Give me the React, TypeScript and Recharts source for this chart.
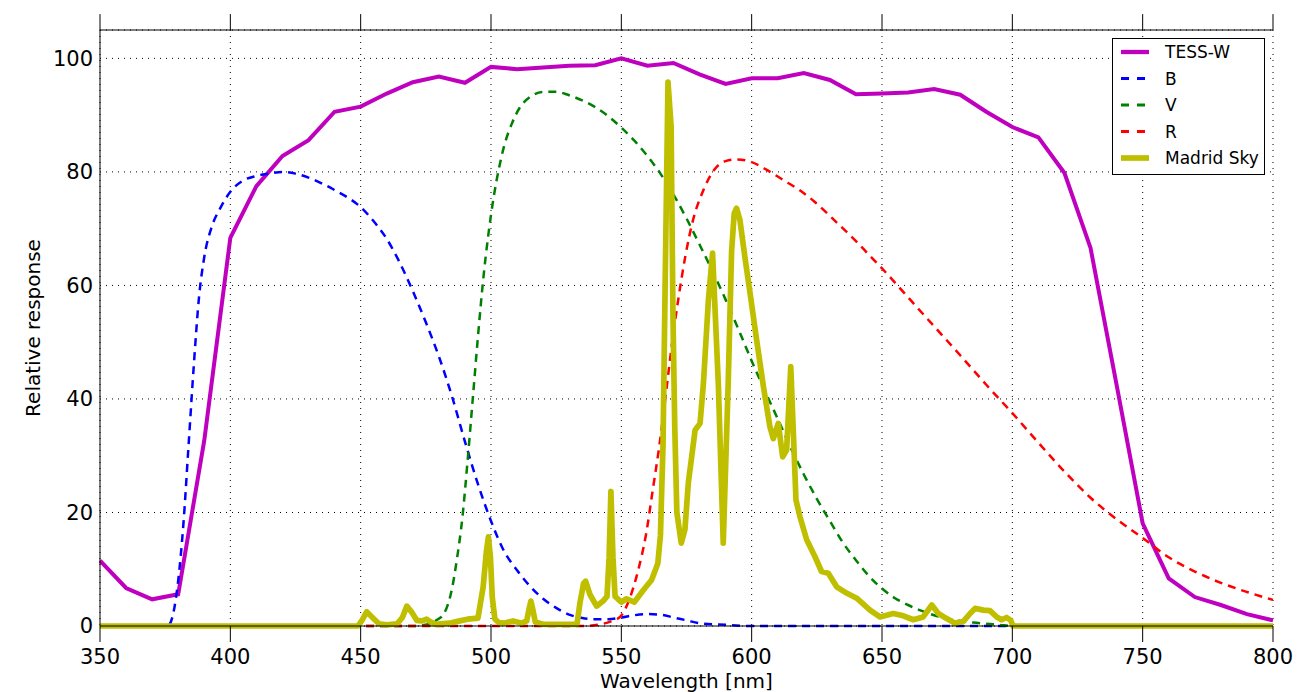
import React from "react";
import { LineChart, Line, XAxis, YAxis, CartesianGrid, ReferenceLine } from "recharts";

// ---------- data ----------
const xTicks = [350, 400, 450, 500, 550, 600, 650, 700, 750, 800];
const yTicks = [0, 20, 40, 60, 80, 100];
const yTop = 105;
const topTickLen = 2.8; // outward frame tick length, in y units

const tessWl = [350, 360, 370, 380, 390, 400, 410, 420, 430, 440, 450, 460, 470, 480, 490, 500, 510, 520, 530, 540, 550, 560, 570, 580, 590, 600, 610, 620, 630, 640, 650, 660, 670, 680, 690, 700, 710, 720, 730, 740, 750, 760, 770, 780, 790, 800];
const tessVal = [11.5, 6.7, 4.7, 5.6, 32.7, 68.4, 77.5, 82.8, 85.6, 90.6, 91.5, 93.8, 95.8, 96.8, 95.7, 98.5, 98.1, 98.4, 98.7, 98.8, 100, 98.7, 99.2, 97.2, 95.5, 96.5, 96.5, 97.4, 96.2, 93.7, 93.8, 94.0, 94.6, 93.6, 90.6, 87.9, 86.1, 79.8, 66.6, 42.5, 18.1, 8.4, 5.1, 3.7, 2.1, 1.0];

const bWl = [350, 370, 376, 378, 380, 382, 384, 386, 388, 390, 393, 396, 400, 405, 410, 415, 420, 425, 430, 435, 440, 445, 450, 455, 460, 465, 470, 475, 480, 485, 490, 495, 500, 505, 510, 515, 520, 525, 530, 535, 540, 545, 550, 555, 560, 565, 570, 575, 580, 590, 600, 800];
const bVal = [0, 0, 0, 2, 8, 18, 32, 46, 58, 65, 70.5, 73.5, 76.5, 78.5, 79.3, 79.7, 80, 79.7, 79, 78, 76.8, 75.5, 73.8, 71.3, 68.2, 64, 59, 53.5, 47.5, 40.5, 32.5, 25, 18.5, 13.2, 9.8, 7, 4.8, 3.2, 2, 1.4, 1.2, 1.2, 1.5, 1.9, 2.1, 2, 1.5, 1, 0.5, 0.2, 0, 0];

const vWl = [350, 470, 476, 479, 482, 485, 487, 489, 491, 493, 495, 497, 499, 501, 503, 505, 508, 511, 515, 520, 525, 530, 535, 540, 545, 550, 555, 560, 565, 570, 575, 580, 585, 590, 595, 600, 605, 610, 615, 620, 625, 630, 635, 640, 645, 650, 655, 660, 665, 670, 675, 680, 685, 690, 695, 700, 800];
const vVal = [0, 0, 0.3, 1, 2.2, 6.5, 12, 19, 29, 40, 51, 61, 69, 75.5, 80.5, 84.5, 88.5, 91.3, 93.2, 94.1, 94.1, 93.5, 92.6, 91.4, 89.8, 87.8, 85.5, 82.8, 79.7, 76, 71.8, 67.2, 62.5, 57.5, 52.2, 46.7, 41.5, 36.5, 31.4, 26.7, 22.4, 18.5, 14.7, 11.6, 8.8, 6.6, 4.9, 3.7, 2.7, 1.9, 1.3, 0.9, 0.6, 0.4, 0.2, 0, 0];

const rWl = [350, 535, 542, 546, 549.5, 553, 556.5, 559.5, 562, 564.5, 567, 569.5, 572, 574.5, 577.5, 581.5, 585.5, 590, 594.5, 599.5, 606, 612, 618, 624, 631, 640, 645, 650, 660, 670, 680, 690, 700, 710, 720, 730, 740, 750, 760, 770, 780, 790, 800];
const rVal = [0, 0, 0.3, 0.8, 1.6, 4.6, 9.9, 16.2, 23.8, 31.5, 40.5, 50, 58, 65, 71.5, 76.8, 80.3, 81.9, 82.2, 81.8, 80.3, 78.6, 76.9, 74.8, 71.8, 67.8, 65.4, 63.0, 57.9, 52.8, 47.7, 42.5, 37.5, 32.3, 27.2, 22.6, 18.8, 15.5, 12.1, 9.6, 7.6, 6.0, 4.6];

const skyWl = [350, 449, 450.5, 452.3, 454.5, 457, 460, 464, 466, 467.7, 469.5, 471.5, 473.5, 475.3, 477, 478.5, 484, 488, 491, 495, 497, 498.2, 499, 499.8, 500.5, 501.5, 503, 505, 508.5, 511.8, 513.7, 514.6, 515.3, 516, 517, 520, 533, 534.1, 535.5, 536.3, 538, 540.5, 543, 544.5, 545.3, 546, 546.8, 547.6, 550, 552, 555, 558.4, 561.6, 564, 565, 566, 566.8, 567.9, 569.1, 569.8, 570.5, 571.3, 573, 574.4, 575.7, 578.3, 580.2, 581.5, 583.4, 585, 587.2, 589.1, 591, 592.3, 593.3, 594.2, 595.5, 597.4, 599.4, 601.9, 604.5, 607, 608.3, 610.2, 611.9, 613.4, 615, 616.2, 617, 618.5, 621.1, 624.3, 626.8, 629.4, 632.6, 636.4, 640.3, 645.4, 649.2, 654.3, 658.2, 662, 665.8, 669.1, 671.6, 674.8, 678, 681.2, 683.8, 685.7, 688.9, 691.4, 694, 695.9, 697.8, 699.4, 700.2, 800];
const skyVal = [0, 0, 1.0, 2.5, 1.5, 0.4, 0.2, 0.4, 1.5, 3.5, 2.5, 1.0, 0.9, 1.2, 0.7, 0.3, 0.5, 0.9, 1.2, 1.4, 6.9, 13, 15.7, 12, 5, 1.2, 0.6, 0.5, 0.9, 0.5, 0.9, 3, 4.4, 3, 0.7, 0.3, 0.3, 4.0, 7.5, 7.9, 5.5, 3.5, 4.4, 5.2, 12, 23.7, 12, 5.2, 4.2, 4.8, 4.2, 6.3, 8.1, 11, 16, 32, 60, 95.8, 88, 55, 35, 20, 14.6, 17, 25.2, 34.5, 35.7, 42.8, 57.4, 65.7, 42.8, 14.6, 42.8, 66, 72.7, 73.6, 71.5, 65, 58.6, 50.4, 42.2, 35.1, 33, 35.7, 29.8, 31, 45.7, 31.6, 22.2, 19.3, 15.2, 12.2, 9.6, 9.3, 6.9, 5.8, 4.9, 2.8, 1.6, 2.2, 1.8, 1.1, 1.6, 3.7, 2.2, 1.3, 0.5, 0.8, 2.2, 3.1, 2.8, 2.7, 1.6, 1.1, 1.5, 1.0, 0, 0];

const seriesNames = ["TESS-W", "B", "V", "R", "Madrid Sky"];

// ---------- build ----------
const toRows = (wl: number[], val: number[]) => wl.map((w, i) => ({ wl: w, v: val[i] }));
const tessData = toRows(tessWl, tessVal);
const bData = toRows(bWl, bVal);
const vData = toRows(vWl, vVal);
const rData = toRows(rWl, rVal);
const skyData = toRows(skyWl, skyVal);

const FONT = "DejaVu Sans";
const MAG = "#bf00bf";
const YEL = "#bfbf00";
const axisStroke = { stroke: "#000", strokeWidth: 1 };
const tickFont = { fontFamily: FONT, fontSize: 21, fill: "#000" };
const blank = () => "";

const LegendBox = () => {
  const rows = [
    { name: seriesNames[0], color: MAG, w: 4.3, dash: undefined },
    { name: seriesNames[1], color: "#0000ff", w: 3, dash: "8 8" },
    { name: seriesNames[2], color: "#008000", w: 3, dash: "8 8" },
    { name: seriesNames[3], color: "#ff0000", w: 3, dash: "8 8" },
    { name: seriesNames[4], color: YEL, w: 5.7, dash: undefined },
  ];
  return (
    <svg width={155} height={139} style={{ position: "absolute", left: 1111, top: 37 }}>
      <rect x={1.5} y={1.5} width={152} height={136} fill="#fff" stroke="#000" strokeWidth={1} />
      {rows.map((r, i) => {
        const cy = 15 + i * 26.5;
        return (
          <g key={r.name}>
            <line x1={10} y1={cy} x2={38} y2={cy} stroke={r.color} strokeWidth={r.w} strokeDasharray={r.dash} />
            <text x={54} y={cy + 6} fontFamily={FONT} fontSize={17} fill="#000">
              {r.name}
            </text>
          </g>
        );
      })}
    </svg>
  );
};

export default function App() {
  return (
    <div style={{ position: "absolute", left: 0, top: 0, width: 1309, height: 692, background: "#fff", overflow: "hidden" }}>
      <LineChart width={1309} height={692} margin={{ top: 30, right: 36, bottom: 0, left: 40 }}>
        <CartesianGrid stroke="#000" strokeWidth={1} strokeDasharray="1 5" />
        <XAxis
          dataKey="wl"
          type="number"
          domain={[350, 800]}
          ticks={xTicks}
          height={66}
          tickSize={16}
          tickMargin={7}
          tickLine={axisStroke}
          axisLine={axisStroke}
          tick={tickFont}
          label={{ value: "Wavelength [nm]", position: "insideBottom", offset: 4, fontFamily: FONT, fontSize: 20, fill: "#000" }}
        />
        <YAxis
          type="number"
          domain={[0, yTop]}
          ticks={yTicks}
          width={60}
          tickSize={0}
          tickMargin={7}
          tickLine={false}
          axisLine={axisStroke}
          tick={tickFont}
          label={{ value: "Relative response", angle: -90, position: "insideLeft", offset: -7, fontFamily: FONT, fontSize: 20, fill: "#000", style: { textAnchor: "middle" } }}
        />
        <YAxis
          yAxisId="leftIn"
          orientation="left"
          mirror
          type="number"
          domain={[0, yTop]}
          ticks={yTicks}
          width={0}
          tickSize={18}
          tickLine={axisStroke}
          axisLine={false}
          tickFormatter={blank}
        />
        <YAxis
          yAxisId="right"
          orientation="right"
          mirror
          type="number"
          domain={[0, yTop]}
          ticks={yTicks}
          width={0}
          tickSize={18}
          tickLine={axisStroke}
          axisLine={axisStroke}
          tickFormatter={blank}
        />
        <ReferenceLine y={yTop} stroke="#000" strokeWidth={1} />
        {xTicks.map((t) => (
          <ReferenceLine
            key={"tt" + t}
            segment={[{ x: t, y: yTop }, { x: t, y: yTop + topTickLen }]}
            ifOverflow="visible"
            stroke="#000"
            strokeWidth={1}
          />
        ))}
        <Line data={tessData} yAxisId="right" dataKey="v" name={seriesNames[0]} type="linear" stroke={MAG} strokeWidth={4} dot={false} isAnimationActive={false} />
        <Line data={bData} yAxisId="leftIn" dataKey="v" name={seriesNames[1]} type="monotone" stroke="#0000ff" strokeWidth={2.5} strokeDasharray="8 6" dot={false} isAnimationActive={false} />
        <Line data={vData} dataKey="v" name={seriesNames[2]} type="monotone" stroke="#008000" strokeWidth={2.5} strokeDasharray="8 6" dot={false} isAnimationActive={false} />
        <Line data={rData} dataKey="v" name={seriesNames[3]} type="monotone" stroke="#ff0000" strokeWidth={2.5} strokeDasharray="8 6" dot={false} isAnimationActive={false} />
        <Line data={skyData} dataKey="v" name={seriesNames[4]} type="linear" stroke={YEL} strokeWidth={5.7} strokeLinejoin="round" dot={false} isAnimationActive={false} />
      </LineChart>
      <LegendBox />
    </div>
  );
}
